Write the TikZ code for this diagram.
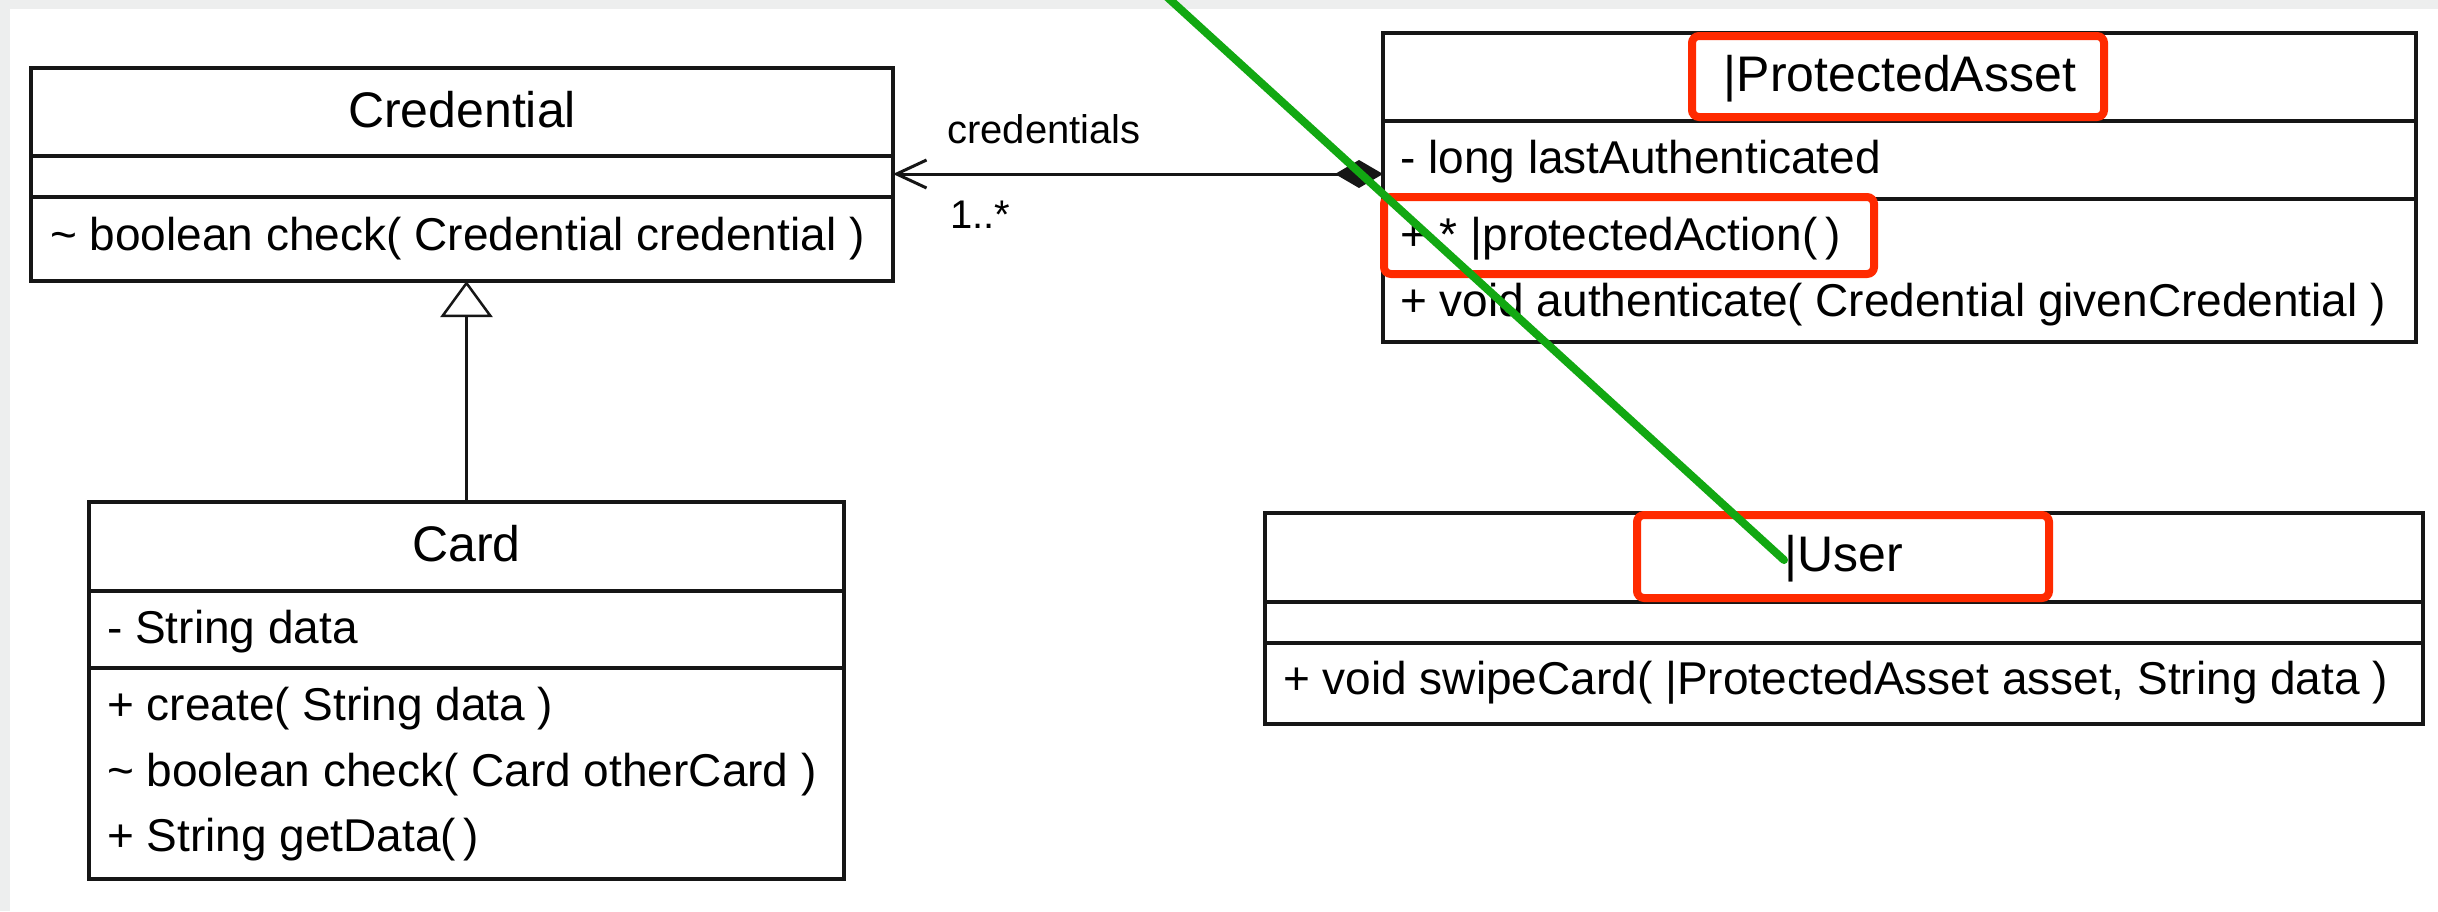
\documentclass[tikz,border=0pt]{standalone}
\usepackage{fontspec}
\setmainfont{Liberation Sans}
\usetikzlibrary{arrows.meta}
\definecolor{linec}{HTML}{161616}
\definecolor{redmark}{HTML}{FF2A00}
\definecolor{greenmark}{HTML}{12A812}
\definecolor{bggrey}{HTML}{EDEEEE}
\newcommand{\ttlsize}{\fontsize{50}{60}\selectfont}
\newcommand{\mbrsize}{\fontsize{46}{55}\selectfont}
\newcommand{\lblsize}{\fontsize{40}{48}\selectfont}
\begin{document}
\begin{tikzpicture}[x=1pt,y=-1pt,
  classbox/.style={draw=linec, line width=3.5pt, rectangle, inner sep=0pt, outer sep=0pt, anchor=north west, fill=white},
  divider/.style={draw=linec, line width=3.5pt},
  ctitle/.style={anchor=base, inner sep=0pt, font=\ttlsize, text=black},
  member/.style={anchor=base west, inner sep=0pt, font=\mbrsize, text=black},
  lbl/.style={anchor=base west, inner sep=0pt, font=\lblsize, text=black},
  assoc/.style={draw=linec, line width=3pt, {Diamond[length=48pt,width=28pt]}-{Straight Barb[length=30pt,width=28pt]}},
  genline/.style={draw=linec, line width=2.5pt, -{Triangle[open,length=36pt,width=52pt,fill=white]}},
  redbox/.style={draw=redmark, line width=8pt, rounded corners=7pt},
  greenstroke/.style={draw=greenmark, line width=8pt, line cap=round}
]
\useasboundingbox (0,0) rectangle (2438,911);
\fill[white] (0,0) rectangle (2438,911);
\fill[bggrey] (0,0) rectangle (2438,9);
\fill[bggrey] (0,0) rectangle (10,911);

% Credential
\node[classbox, minimum width=862pt, minimum height=213pt] (cred) at (31,68) {};
\draw[divider] (cred.west |- 0,156) -- (cred.east |- 0,156);
\draw[divider] (cred.west |- 0,197) -- (cred.east |- 0,197);
\node[ctitle] (credT) at (462,127) {Credential};
\node[member] (credM1) at (50,250) {\textasciitilde\ boolean check( Credential credential )};

% Card
\node[classbox, minimum width=755pt, minimum height=377pt] (card) at (89,502) {};
\draw[divider] (card.west |- 0,591) -- (card.east |- 0,591);
\draw[divider] (card.west |- 0,668) -- (card.east |- 0,668);
\node[ctitle] (cardT) at (466.5,561) {Card};
\node[member] (cardA1) at (107,643) {- String data};
\node[member] (cardM1) at (107,720) {+ create( String data )};
\node[member] (cardM2) at (107,786) {\textasciitilde\ boolean check( Card otherCard )};
\node[member] (cardM3) at (107,851) {+ String getData(\,)};

% ProtectedAsset
\node[classbox, minimum width=1033pt, minimum height=309pt] (pa) at (1383,33) {};
\draw[divider] (pa.west |- 0,121) -- (pa.east |- 0,121);
\draw[divider] (pa.west |- 0,199) -- (pa.east |- 0,199);
\node[ctitle] (paT) at (1900,91) {|ProtectedAsset};
\node[member] (paA1) at (1400,173) {- long lastAuthenticated};
\node[member] (paM1) at (1400,250) {+ * |protectedAction(\,)};
\node[member] (paM2) at (1400,316) {+ void authenticate( Credential givenCredential )};

% User
\node[classbox, minimum width=1158pt, minimum height=211pt] (user) at (1265,513) {};
\draw[divider] (user.west |- 0,602) -- (user.east |- 0,602);
\draw[divider] (user.west |- 0,643) -- (user.east |- 0,643);
\node[ctitle] (userT) at (1844,571) {|User};
\node[member] (userM1) at (1283,694) {+ void swipeCard( |ProtectedAsset asset, String data )};

% association
\coordinate (aP) at (pa.west |- 0,174);
\coordinate (aC) at (cred.east |- 0,174);
\draw[assoc] (aP) -- (aC);
\node[lbl] (role) at (947,143) {credentials};
\node[lbl] (mult) at (950,228) {1..*};

% generalization
\draw[genline] (card.north) -- (card.north |- cred.south);

% annotations
\draw[redbox] (1692,36) rectangle (2104,117);
\draw[redbox] (1384,197) rectangle (1874,274);
\draw[redbox] (1637,515) rectangle (2049,598);
\coordinate (gs) at (1166,-4);
\coordinate (ge) at (1784,560);
\draw[greenstroke] (gs) -- (ge);
\end{tikzpicture}
\end{document}
